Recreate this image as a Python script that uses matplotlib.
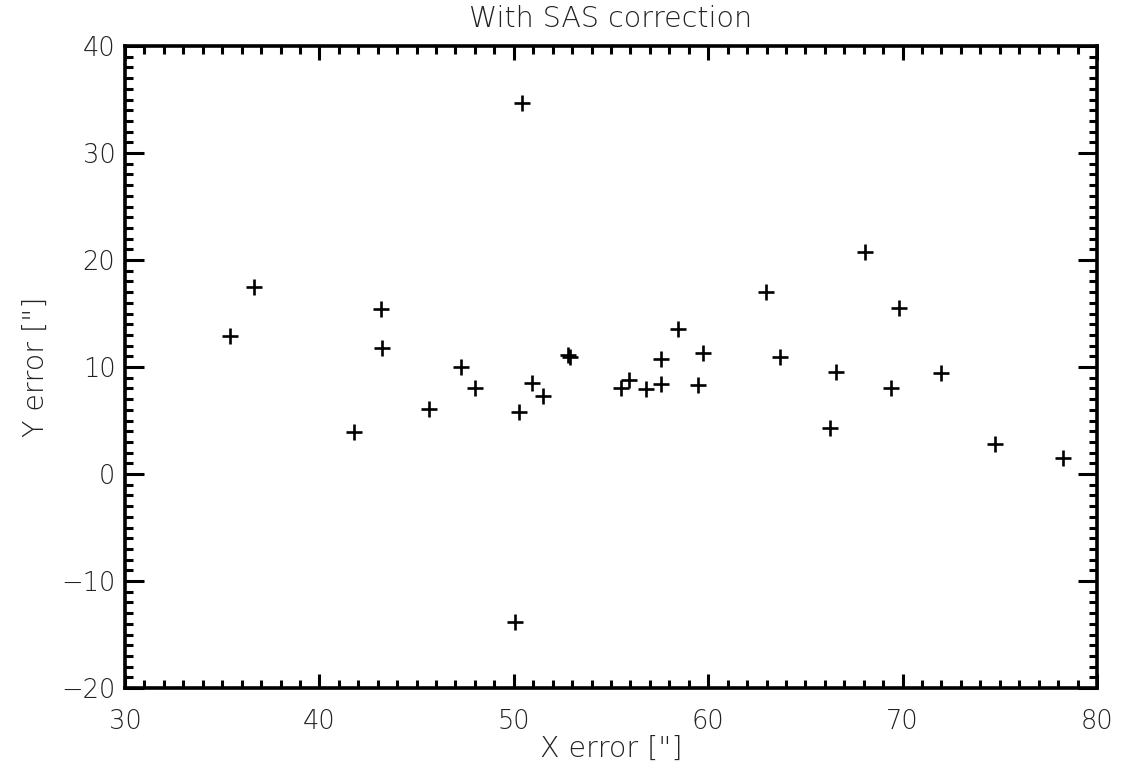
import matplotlib
matplotlib.use("Agg")
import matplotlib.pyplot as plt
from matplotlib.ticker import MultipleLocator

x_err = [35.40, 36.64, 41.80, 43.15, 43.24, 45.65, 47.28, 47.99, 50.42, 50.06,
         50.25, 50.94, 51.49, 52.79, 52.89, 55.50, 55.91, 56.79, 57.56, 57.56,
         58.45, 59.75, 59.49, 62.99, 63.68, 66.28, 66.56, 68.08, 69.39, 69.81,
         71.98, 74.75, 78.25]
y_err = [12.90, 17.50, 3.90, 15.39, 11.80, 6.10, 10.03, 8.04, 34.67, -13.83,
         5.77, 8.53, 7.29, 11.12, 10.96, 8.01, 8.79, 7.92, 8.41, 10.78,
         13.52, 11.28, 8.29, 17.04, 10.91, 4.27, 9.53, 20.78, 8.04, 15.51,
         9.44, 2.80, 1.52]

title = "With SAS correction"
xlabel = 'X error ["]'
ylabel = 'Y error ["]'

W, H = 1122, 771
fig = plt.figure(figsize=(W / 100, H / 100), dpi=100)
ax = fig.add_axes([125 / W, 1 - 688 / H, (1097 - 125) / W, (688 - 46) / H])

ax.plot(x_err, y_err, linestyle="none", marker="+", color="black",
        markersize=12, markeredgewidth=1.9)

ax.set_xlim(30, 80)
ax.set_ylim(-20, 40)
ax.xaxis.set_major_locator(MultipleLocator(10))
ax.xaxis.set_minor_locator(MultipleLocator(1))
ax.yaxis.set_major_locator(MultipleLocator(10))
ax.yaxis.set_minor_locator(MultipleLocator(1))

for s in ax.spines.values():
    s.set_linewidth(2.6)
ax.tick_params(which="both", direction="in", top=True, right=True, width=2.2,
               labelsize=18.5, labelcolor="#222222")
ax.tick_params(axis="x", which="major", length=10, pad=15)
ax.tick_params(axis="y", which="major", length=13.5, pad=7)
ax.tick_params(which="minor", length=5.5)

for lab in ax.get_xticklabels() + ax.get_yticklabels():
    lab.set_fontweight("light")

txtkw = dict(fontsize=20.5, color="#222222", fontweight="light")
ax.set_title(title, pad=14, **txtkw)
ax.set_xlabel(xlabel, labelpad=1, **txtkw)
ax.set_ylabel(ylabel, labelpad=8, **txtkw)

fig.savefig("out.png", dpi=100, facecolor="white")
